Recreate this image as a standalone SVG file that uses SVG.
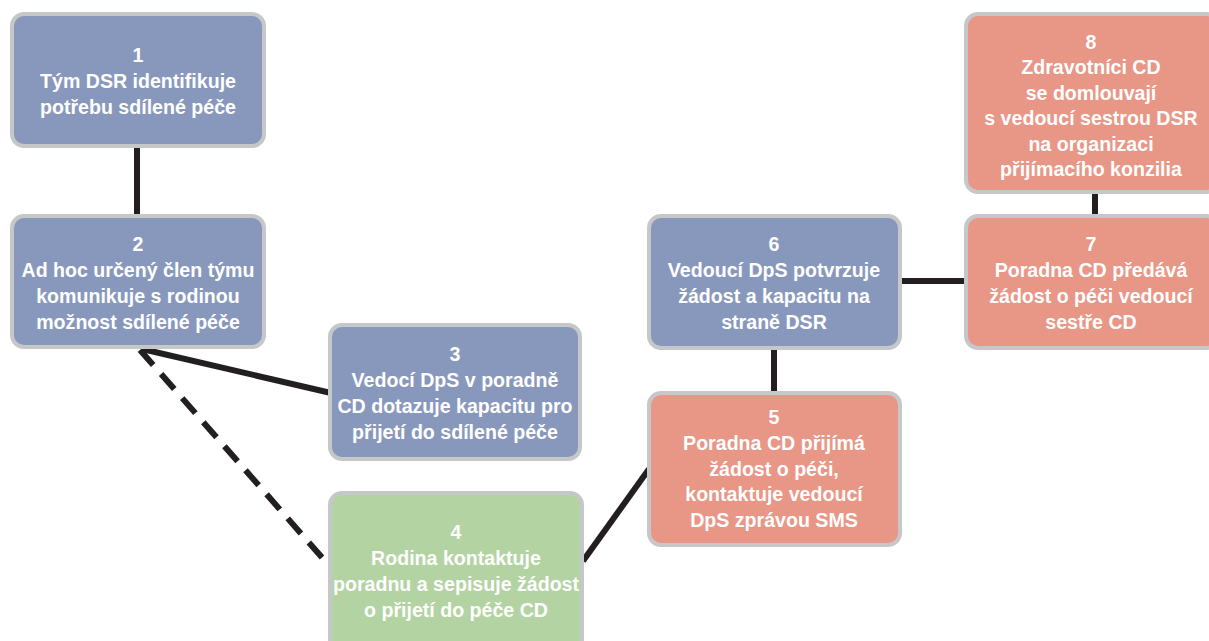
<svg xmlns="http://www.w3.org/2000/svg" width="1209" height="641" viewBox="0 0 1209 641">
<style>
.box{stroke:#c6c7c9;stroke-width:4}
.blue{fill:#8898bd}
.red{fill:#e89686}
.green{fill:#b3d3a3}
.t{font-family:"Liberation Sans",Arial,sans-serif;font-weight:bold;font-size:19.6px;fill:#ffffff;text-anchor:middle;dominant-baseline:central}
.c{stroke:#231f20;stroke-width:6;fill:none}
.d{stroke-dasharray:20 12}
</style>
<rect width="1209" height="641" fill="#ffffff"/>
<g id="connectors">
<line class="c" x1="137" y1="146" x2="137" y2="216"/>
<line class="c" x1="142" y1="349" x2="331" y2="393"/>
<line class="c d" x1="140" y1="350" x2="326" y2="562"/>
<line class="c" x1="583" y1="561" x2="649" y2="469"/>
<line class="c" x1="774" y1="348" x2="774" y2="393"/>
<line class="c" x1="900" y1="281" x2="966" y2="281"/>
<line class="c" x1="1095" y1="192" x2="1095" y2="216"/>
</g>
<g id="node1">
<rect class="box blue" x="12" y="14" width="252" height="132" rx="12"/>
<text class="t" x="138" y="55">1</text>
<text class="t" x="138" y="81">Tým DSR identifikuje</text>
<text class="t" x="138" y="107">potřebu sdílené péče</text>
</g>
<g id="node2">
<rect class="box blue" x="12" y="216" width="252" height="131" rx="12"/>
<text class="t" x="138" y="244">2</text>
<text class="t" x="138" y="270">Ad hoc určený člen týmu</text>
<text class="t" x="138" y="296">komunikuje s rodinou</text>
<text class="t" x="138" y="322">možnost sdílené péče</text>
</g>
<g id="node3">
<rect class="box blue" x="330" y="325" width="250" height="134" rx="12"/>
<text class="t" x="455" y="354">3</text>
<text class="t" x="455" y="380">Vedocí DpS v poradně</text>
<text class="t" x="455" y="406">CD dotazuje kapacitu pro</text>
<text class="t" x="455" y="432">přijetí do sdílené péče</text>
</g>
<g id="node4">
<rect class="box green" x="330" y="493" width="252" height="160" rx="12"/>
<text class="t" x="456" y="532">4</text>
<text class="t" x="456" y="558">Rodina kontaktuje</text>
<text class="t" x="456" y="584">poradnu a sepisuje žádost</text>
<text class="t" x="456" y="610">o přijetí do péče CD</text>
</g>
<g id="node5">
<rect class="box red" x="649" y="393" width="251" height="152" rx="12"/>
<text class="t" x="774" y="417">5</text>
<text class="t" x="774" y="443">Poradna CD přijímá</text>
<text class="t" x="774" y="469">žádost o péči,</text>
<text class="t" x="774" y="494">kontaktuje vedoucí</text>
<text class="t" x="774" y="520">DpS zprávou SMS</text>
</g>
<g id="node6">
<rect class="box blue" x="649" y="216" width="251" height="132" rx="12"/>
<text class="t" x="774" y="244">6</text>
<text class="t" x="774" y="270">Vedoucí DpS potvrzuje</text>
<text class="t" x="774" y="296">žádost a kapacitu na</text>
<text class="t" x="774" y="322">straně DSR</text>
</g>
<g id="node7">
<rect class="box red" x="966" y="216" width="252" height="132" rx="12"/>
<text class="t" x="1091" y="244">7</text>
<text class="t" x="1091" y="270">Poradna CD předává</text>
<text class="t" x="1091" y="296">žádost o péči vedoucí</text>
<text class="t" x="1091" y="322">sestře CD</text>
</g>
<g id="node8">
<rect class="box red" x="966" y="14" width="252" height="178" rx="12"/>
<text class="t" x="1091" y="42">8</text>
<text class="t" x="1091" y="67">Zdravotníci CD</text>
<text class="t" x="1091" y="93">se domlouvají</text>
<text class="t" x="1091" y="118">s vedoucí sestrou DSR</text>
<text class="t" x="1091" y="144">na organizaci</text>
<text class="t" x="1091" y="169">přijímacího konzilia</text>
</g>
</svg>
